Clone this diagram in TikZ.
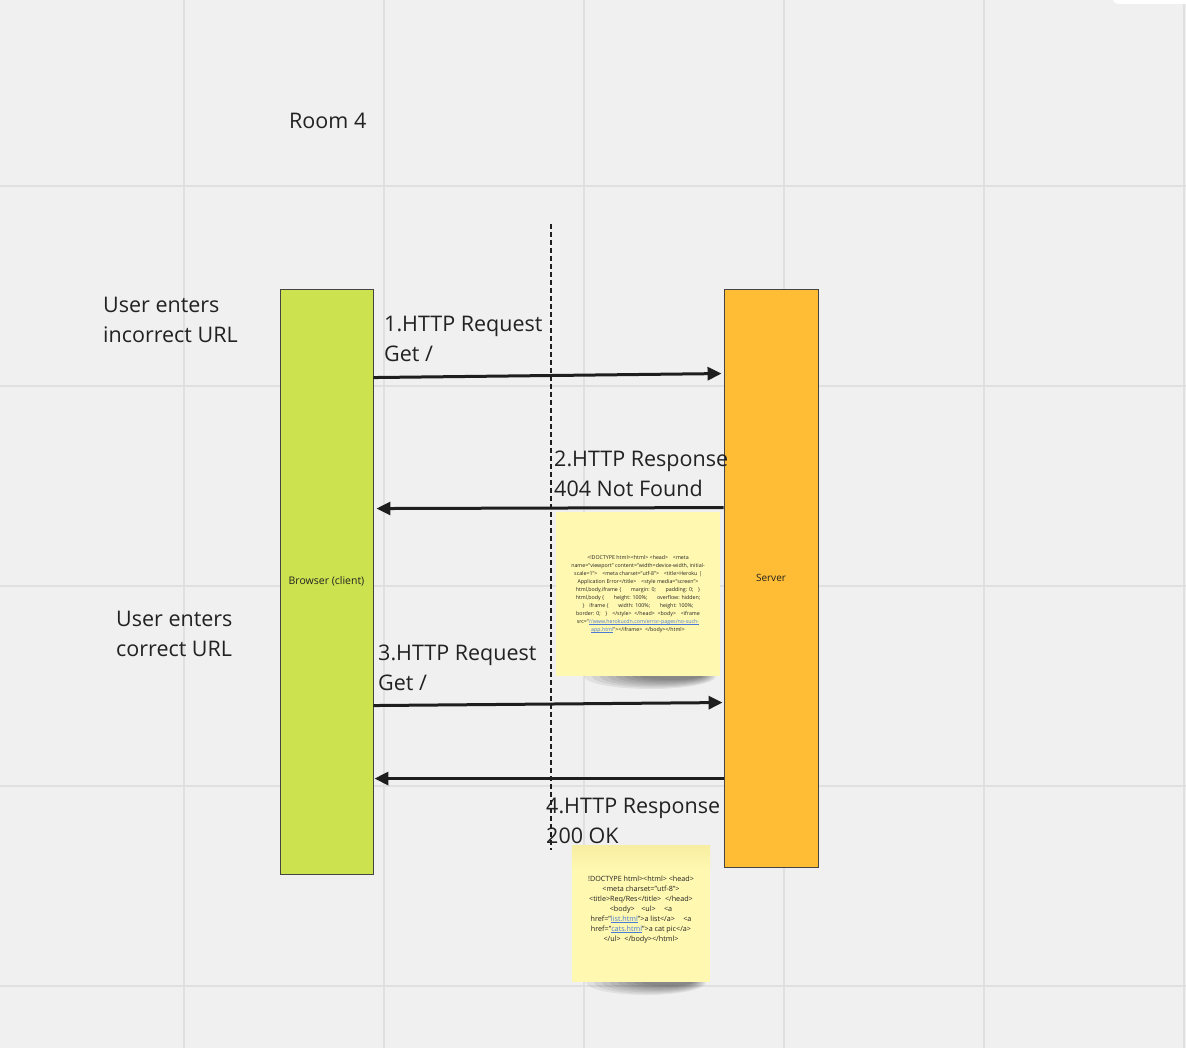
\documentclass[tikz,border=0pt]{standalone}
\usepackage{fontspec}
\setmainfont{Open Sans}
\usetikzlibrary{arrows.meta,calc}
\definecolor{bgc}{HTML}{F0F0F0}
\definecolor{gridc}{HTML}{E0E0E0}
\definecolor{greenbox}{HTML}{CDE24F}
\definecolor{orangebox}{HTML}{FFBD35}
\definecolor{stickyc}{HTML}{FFF8B0}
\definecolor{stickytop}{HTML}{F7EEA2}
\definecolor{txtc}{HTML}{222222}
\definecolor{linec}{HTML}{1E1E1E}
\definecolor{boxline}{HTML}{454545}
\definecolor{linkblue}{HTML}{4A7BD6}
\newlength{\stklen}
\newcommand{\stkgap}{\hspace{0.9em}}
\newcommand{\stklink}[1]{\settowidth{\stklen}{#1}\textcolor{linkblue}{\rlap{\rule[-0.8pt]{\stklen}{0.4pt}}#1}}
\begin{document}
\begin{tikzpicture}[x=1pt,y=-1pt,
  gridl/.style={draw=gridc, line width=2pt},
  lifebox/.style={draw=boxline, line width=0.9pt, inner sep=0pt},
  lbl/.style={anchor=north west, inner sep=0pt, align=left, text=txtc,
    font=\fontsize{21.5}{30}\selectfont},
  msg/.style={draw=linec, line width=3pt,
    -{Triangle[length=14pt,width=13pt]}},
  sticky/.style={fill=stickyc, inner sep=0pt, align=center, text=txtc},
  shadowc/.style={fill=black, opacity=0.065}
]
\useasboundingbox (0,0) rectangle (1186,1048);
\clip (0,0) rectangle (1186,1048);
\fill[bgc] (0,0) rectangle (1186,1048);
% grid
\foreach \gx in {184,384,584,784,984,1184} \draw[gridl] (\gx,0) -- (\gx,1048);
\foreach \gy in {186,386,586,786,986} \draw[gridl] (0,\gy) -- (1186,\gy);
% top right white panel
\fill[white, rounded corners=7pt] (1112,-20) rectangle (1200,4);

% lifeline boxes
\node[lifebox, fill=greenbox, minimum width=93pt, minimum height=585pt,
  font=\fontsize{10.5}{12}\selectfont, text=txtc] (browser) at (326.5,581.5) {Browser (client)};
\node[lifebox, fill=orangebox, minimum width=94pt, minimum height=578pt,
  font=\fontsize{10}{12}\selectfont, text=txtc] (server) at (771,578) {Server};

% dashed divider
\coordinate (dtop) at (551,224);
\coordinate (dbot) at (551,850);
\draw[linec, line width=1.1pt, dash pattern=on 5pt off 3pt] (dtop) -- (dbot);

% labels
\node[lbl] (room) at (289,107) {\strut Room 4};
\node[lbl] (userbad) at (103,291) {\strut User enters\\incorrect URL};
\node[lbl] (req1) at (384,310) {\strut 1.HTTP Request\\Get /};
\node[lbl] (resp2) at (554,445) {\strut 2.HTTP Response\\404 Not Found};
\node[lbl] (usergood) at (116,605) {\strut User enters\\correct URL};
\node[lbl] (req3) at (378,639) {\strut 3.HTTP Request\\Get /};
\node[lbl] (resp4) at (546,792) {\strut 4.HTTP Response\\200 OK};

% messages
\draw[msg] ($(browser.north east)+(0,89)$) -- ($(server.north west)+(-2,85)$);
\draw[msg] ($(server.north west)+(0,219)$) -- ($(browser.north east)+(3,220)$);
\draw[msg] ($(browser.north east)+(0,417)$) -- ($(server.north west)+(-1,414)$);
\draw[msg] ($(server.north west)+(0,490)$) -- ($(browser.north east)+(1,490)$);

% sticky note shadows (soft, darker to the right)
\foreach \i in {0,...,7} {
  \fill[shadowc] ({650+3*\i},676) ellipse [x radius={66-5*\i}, y radius={13-1.3*\i}];
  \fill[shadowc] ({646+3*\i},982) ellipse [x radius={60-5*\i}, y radius={13-1.3*\i}];
}

% sticky notes
\node[sticky, minimum width=164pt, minimum height=164pt,
  font=\fontsize{5.3}{8}\selectfont] (note1) at (638,594) {%
<!DOCTYPE html><html> <head>\stkgap<meta\\
name="viewport" content="width=device-width, initial-\\
scale=1">\stkgap<meta charset="utf-8">\stkgap<title>Heroku |\\
Application Error</title>\stkgap<style media="screen">\\
html,body,iframe \{\stkgap\stkgap margin: 0;\stkgap\stkgap padding: 0;\stkgap \}\\
html,body \{\stkgap\stkgap height: 100\%;\stkgap\stkgap overflow: hidden;\\
\}\stkgap iframe \{\stkgap\stkgap width: 100\%;\stkgap\stkgap height: 100\%;\\
border: 0;\stkgap \}\stkgap </style>\ \ </head>\ \ <body>\stkgap<iframe\\
src="\stklink{//www.herokucdn.com/error-pages/no-such-}\\
\stklink{app.html}"></iframe>\ \ </body></html>};
\node[sticky, minimum width=138pt, minimum height=136pt] (note2) at (641,914) {};
\shade[top color=stickytop, bottom color=stickyc]
  (note2.north west) rectangle ($(note2.north east)+(0,24)$);
\node[align=center, inner sep=0pt, text=txtc, font=\fontsize{7.2}{10}\selectfont]
  (note2text) at ($(note2.center)+(0,-4)$) {%
!DOCTYPE html><html> <head>\\
<meta charset="utf-8">\\
<title>Req/Res</title>\ \ </head>\\
<body>\stkgap<ul>\stkgap\ <a\\
href="\stklink{list.html}">a list</a>\stkgap\ <a\\
href="\stklink{cats.html}">a cat pic</a>\\
</ul>\ \ </body></html>};
\end{tikzpicture}
\end{document}
